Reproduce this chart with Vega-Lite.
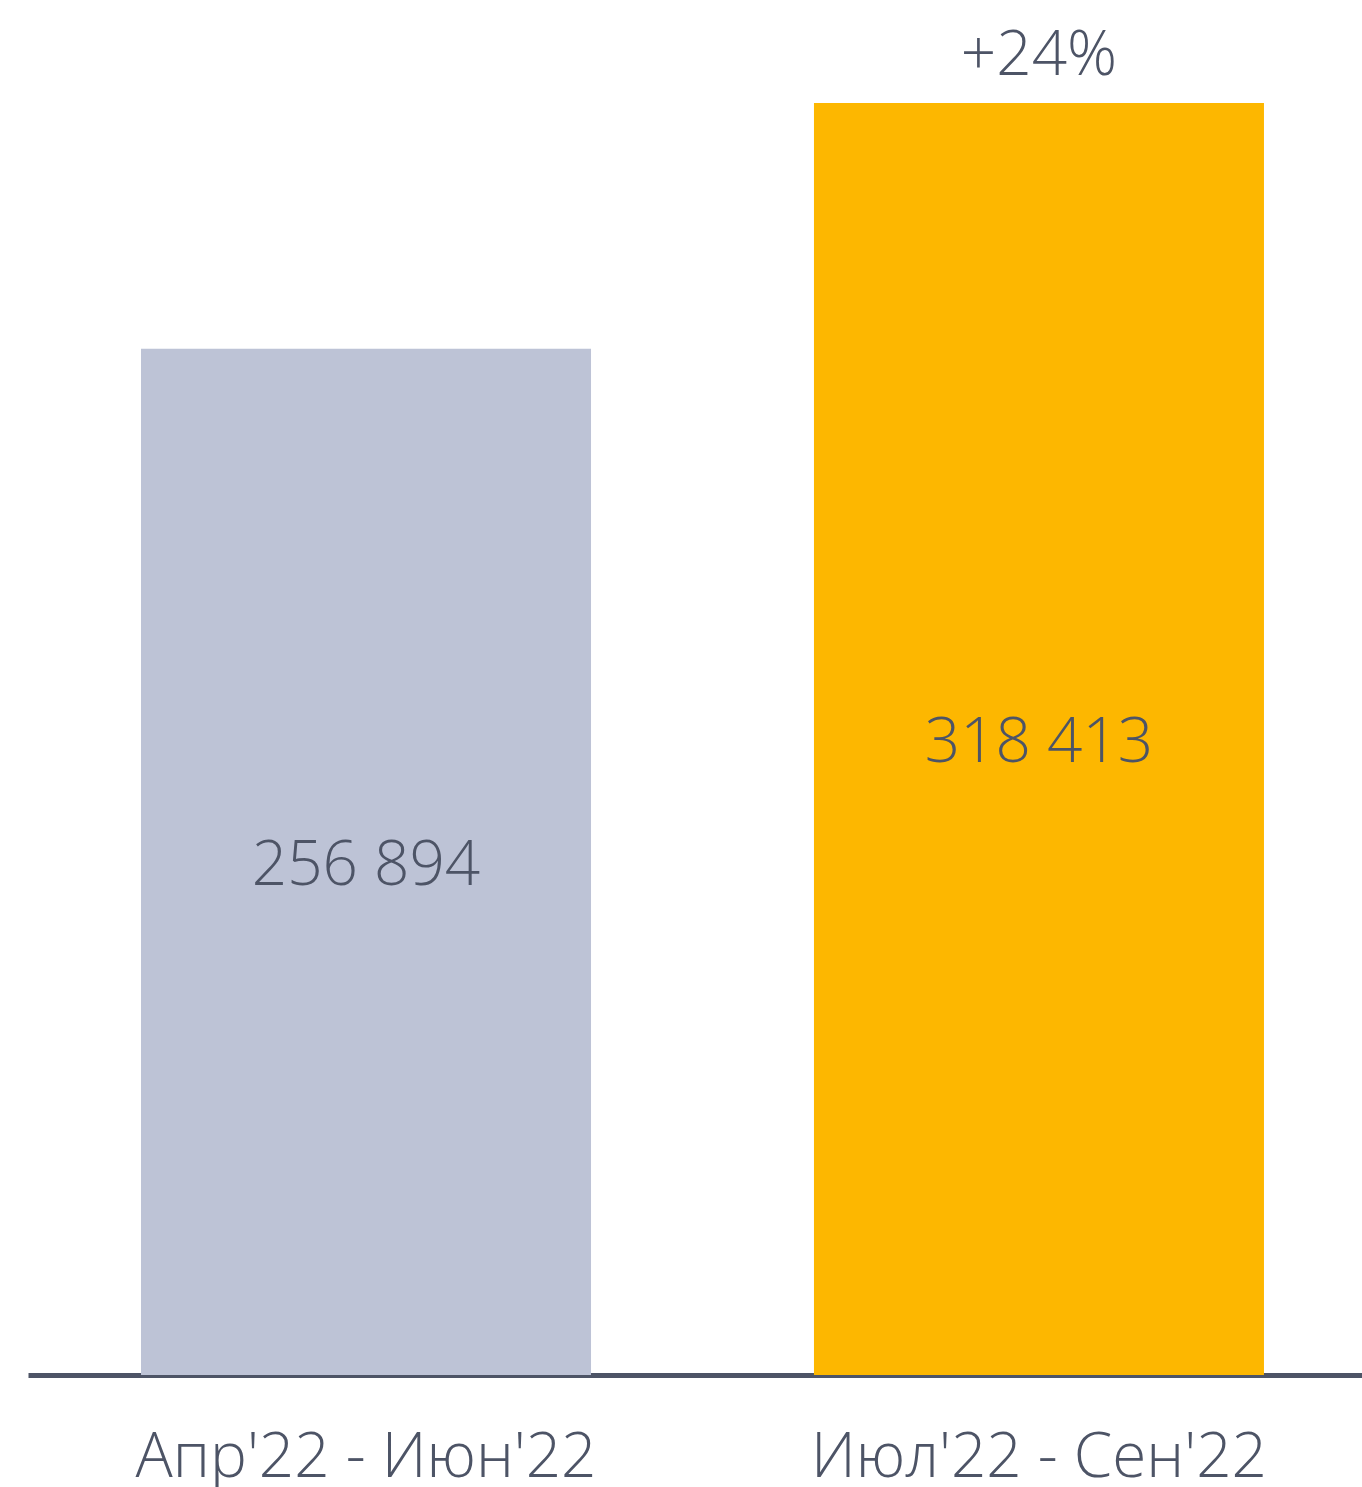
{
  "$schema": "https://vega.github.io/schema/vega-lite/v6.json",
  "width": 1334,
  "height": 1375,
  "autosize": {"type": "none"},
  "padding": {"left": 28, "top": 0, "right": 0, "bottom": 112},
  "background": "#ffffff",
  "config": {"view": {"stroke": null}, "font": "Open Sans"},
  "data": {
    "values": [
      {"period": "Апр'22 - Июн'22", "value": 256894, "label": "256 894", "change": ""},
      {"period": "Июл'22 - Сен'22", "value": 318413, "label": "318 413", "change": "+24%"}
    ]
  },
  "encoding": {
    "x": {
      "field": "period",
      "type": "nominal",
      "sort": null,
      "scale": {"paddingInner": 0.3313, "paddingOuter": 0.1568, "align": 0.5355},
      "axis": {
        "title": null,
        "domainColor": "#4d5466",
        "domainWidth": 5,
        "ticks": false,
        "labelAngle": 0,
        "labelLimit": 0,
        "labelFont": "Open Sans",
        "labelFontWeight": 300,
        "labelFontSize": 62,
        "labelColor": "#4d5466",
        "labelPadding": 52
      }
    }
  },
  "layer": [
    {
      "mark": {"type": "bar"},
      "encoding": {
        "y": {"field": "value", "type": "quantitative", "scale": {"domain": [0, 344200]}, "axis": null},
        "color": {
          "field": "period",
          "type": "nominal",
          "sort": null,
          "scale": {"range": ["#bdc3d6", "#fdb700"]},
          "legend": null
        }
      }
    },
    {
      "transform": [{"calculate": "datum.value / 2", "as": "mid"}],
      "mark": {"type": "text", "font": "Open Sans", "fontWeight": 300, "fontSize": 62, "color": "#4d5466", "baseline": "middle", "align": "center", "dy": 4},
      "encoding": {
        "y": {"field": "mid", "type": "quantitative", "scale": {"domain": [0, 344200]}},
        "text": {"field": "label"}
      }
    },
    {
      "mark": {"type": "text", "font": "Open Sans", "fontWeight": 300, "fontSize": 62, "color": "#4d5466", "baseline": "alphabetic", "align": "center", "dy": -28},
      "encoding": {
        "y": {"field": "value", "type": "quantitative", "scale": {"domain": [0, 344200]}},
        "text": {"field": "change"}
      }
    }
  ]
}
